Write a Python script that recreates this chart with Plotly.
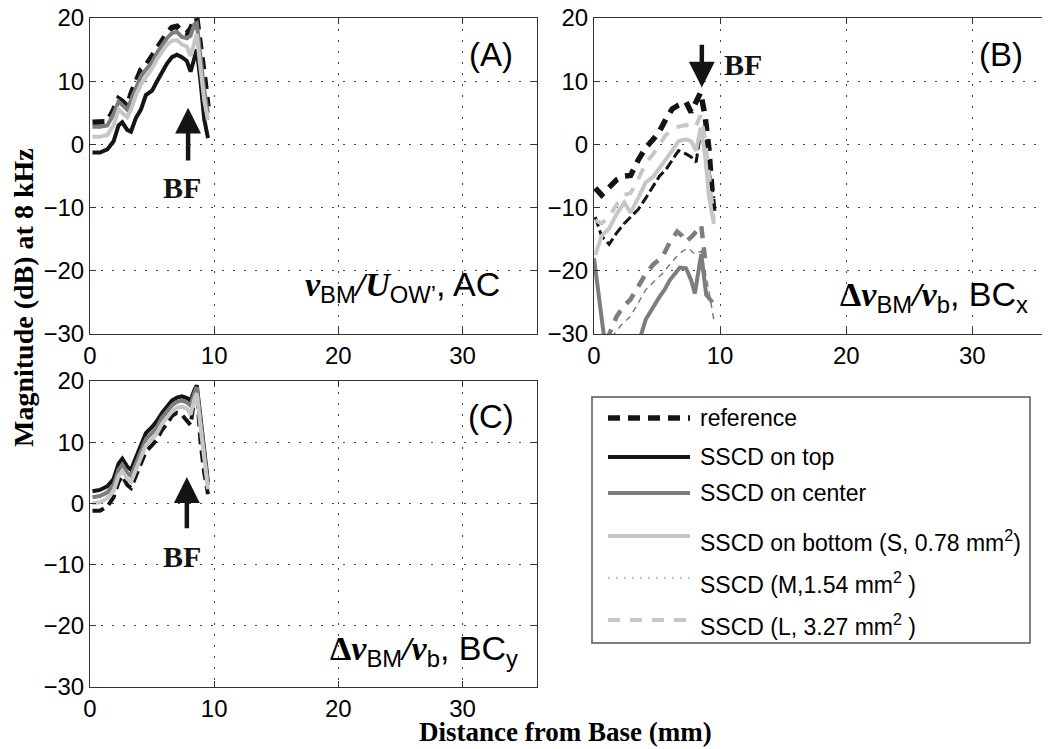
import plotly.graph_objects as go

W, H = 1050, 749
OFF = 8  # page body margin in the browser

# ---------------- data ----------------
x_ticks = [0, 10, 20, 30]
y_ticks = [-30, -20, -10, 0, 10, 20]

# Panel A : v_BM / U_OW, AC
A_x = [0.2, 0.8, 1.4, 1.9, 2.3, 2.6, 3.0, 3.3, 3.7, 4.1, 4.5, 5.0, 5.4, 5.8, 6.2,
       6.6, 7.0, 7.4, 7.8, 8.1, 8.4, 8.6, 8.9, 9.2, 9.5]
A_ref = [3.5, 3.5, 3.6, 5.5, 7.2, 6.8, 6.0, 8.0, 10.0, 11.8, 12.5, 14.0, 15.5, 16.5,
         17.6, 18.5, 18.7, 17.8, 17.6, 18.3, 19.8, 20.0, 16.0, 11.0, 6.0]
A_top = [-1.3, -1.3, -0.8, 0.5, 3.0, 3.5, 2.3, 2.0, 4.2, 5.5, 7.8, 8.5, 10.0, 11.5,
         12.8, 13.8, 14.2, 13.8, 13.2, 11.5, 13.5, 15.0, 10.0, 4.0, 1.0]
A_center = [2.8, 2.8, 3.0, 4.8, 6.8, 6.2, 5.5, 7.0, 9.0, 10.8, 11.8, 13.0, 14.5, 15.8,
            16.8, 17.6, 17.8, 17.0, 16.8, 17.2, 19.0, 19.2, 14.0, 8.5, 5.0]
A_bottom = [1.2, 1.2, 1.5, 3.0, 5.5, 5.0, 4.3, 5.5, 7.8, 9.5, 10.5, 12.0, 13.5, 14.8,
            15.8, 16.4, 16.5, 15.8, 15.5, 14.0, 16.5, 17.5, 12.0, 7.0, 3.8]

# Panel B : delta v_BM / v_b, BCx
B_x = [0.1, 0.6, 1.2, 1.8, 2.4, 2.9, 3.5, 4.1, 4.7, 5.2, 5.7, 6.2, 6.7, 7.3, 7.7,
       8.1, 8.45, 8.8, 9.1, 9.5]
B_ref = [-6.9, -8.0, -6.8, -5.6, -5.0, -4.9, -2.5, -0.5, 0.8, 2.1, 4.0, 5.6, 6.2, 6.7,
         5.1, 6.8, 8.2, 4.6, -0.5, -11.0]
B_top = [-11.5, -14.5, -15.8, -14.0, -12.5, -11.5, -10.3, -8.5, -6.7, -5.0, -4.0, -2.5,
         -1.0, -1.5, -2.0, -2.8, 2.0, 0.0, -4.0, -8.5]
B_bottom = [-17.5, -14.5, -13.3, -11.0, -9.2, -10.8, -8.5, -6.0, -5.1, -3.8, -2.5, -1.0,
            0.5, 0.8, 0.5, -1.0, 2.6, -1.5, -8.0, -12.6]
B_L = [-12.0, -12.5, -11.5, -9.5, -8.0, -7.7, -5.5, -3.0, -1.5, 0.0, 1.5, 2.3, 2.8, 3.1,
       2.5, 3.0, 4.6, 1.0, -5.0, -12.0]
B_center_x = [0.0, 0.4, 0.8, 1.2, 2.0, 3.0, 3.6, 4.1, 4.6, 5.2, 5.6, 6.0, 6.4, 6.8, 7.3,
              7.7, 8.0, 8.5, 8.9, 9.4]
B_center = [-18.0, -24.5, -30.5, -33.0, -35.0, -33.0, -31.0, -27.7, -26.0, -24.1, -23.0,
            -21.5, -20.5, -19.5, -19.6, -21.5, -23.6, -17.4, -23.8, -25.0]
B_M_x = [1.4, 2.2, 2.9, 3.5, 4.1, 4.7, 5.4, 6.0, 6.7, 7.1, 7.5, 8.0, 8.5, 9.0, 9.5]
B_M = [-30.5, -28.5, -27.2, -25.0, -23.0, -21.8, -20.5, -19.0, -17.4, -16.8, -16.4,
       -17.4, -16.9, -22.0, -27.7]
B_low_x = [1.0, 1.8, 2.4, 2.9, 3.5, 4.1, 4.7, 5.4, 6.0, 6.6, 7.0, 7.3, 7.8, 8.5, 8.8]
B_low = [-31.0, -27.2, -25.5, -24.5, -22.5, -20.5, -19.0, -17.9, -15.5, -13.8, -14.5,
         -15.4, -14.5, -12.8, -18.0]

# Panel C : delta v_BM / v_b, BCy
C_x = A_x
C_top = [2.0, 2.2, 2.8, 4.0, 6.5, 7.3, 6.0, 5.5, 7.5, 9.5, 11.5, 12.5, 13.5, 14.8, 15.8,
         16.8, 17.3, 17.5, 17.2, 16.8, 18.5, 19.3, 14.0, 8.5, 3.5]
C_center = [1.0, 1.2, 1.8, 3.0, 5.5, 6.3, 5.0, 4.5, 6.5, 8.5, 10.5, 11.5, 12.5, 14.0,
            15.0, 16.0, 16.6, 16.8, 16.5, 16.0, 18.0, 19.0, 13.5, 8.0, 3.0]
C_bottom = [0.0, 0.2, 0.8, 2.0, 4.5, 5.3, 4.0, 3.5, 5.5, 7.5, 9.5, 10.5, 11.5, 13.0,
            14.0, 15.0, 15.6, 15.8, 15.5, 14.5, 17.0, 18.0, 12.5, 7.0, 2.3]
C_ref = [-1.2, -1.2, -0.5, 1.0, 3.5, 4.5, 3.0, 2.5, 4.5, 6.5, 8.5, 9.5, 10.5, 12.0, 13.0,
         14.3, 14.8, 14.5, 13.5, 12.8, 17.0, 18.5, 10.0, 5.0, 1.5]

legend_labels = ["reference", "SSCD on top", "SSCD on center",
                 "SSCD on bottom (S, 0.78 mm<sup>2</sup>)",
                 "SSCD (M,1.54 mm<sup>2</sup> )", "SSCD (L, 3.27 mm<sup>2</sup> )"]

# ---------------- styles ----------------
BLACK = "#141414"
GRAY = "#7d7d7d"
LGRAY = "#c6c6c6"
st_ref = dict(color=BLACK, width=5.5, dash="12px,8px")
st_top = dict(color=BLACK, width=4)
st_center = dict(color=GRAY, width=4)
st_bottom = dict(color=LGRAY, width=4)
st_M = dict(color=LGRAY, width=2, dash="2px,6px")
st_L = dict(color=LGRAY, width=4, dash="12px,10px")
legend_styles = [st_ref, st_top, st_center, st_bottom, st_M, st_L]

fig = go.Figure()


def add(x, y, line, xa, ya):
    fig.add_trace(go.Scatter(x=x, y=y, mode="lines", line=line, xaxis=xa, yaxis=ya,
                             showlegend=False, hoverinfo="skip"))


# Panel A
add(A_x, A_ref, st_ref, "x", "y")
add(A_x, A_top, st_top, "x", "y")
add(A_x, A_center, st_center, "x", "y")
add(A_x, A_bottom, st_bottom, "x", "y")

# Panel B
add(B_center_x, B_center, dict(color=GRAY, width=4), "x2", "y2")
add(B_M_x, B_M, dict(color=GRAY, width=1.5, dash="6px,5px"), "x2", "y2")
add(B_low_x, B_low, dict(color=GRAY, width=4.5, dash="12px,9px"), "x2", "y2")
add(B_x, B_ref, st_ref, "x2", "y2")
add(B_x, B_top, dict(color=BLACK, width=3, dash="10px,4px"), "x2", "y2")
add(B_x, B_bottom, st_bottom, "x2", "y2")
add(B_x, B_L, st_L, "x2", "y2")

# Panel C
add(C_x, C_ref, dict(color=BLACK, width=4, dash="12px,6px"), "x3", "y3")
add(C_x, C_top, st_top, "x3", "y3")
add(C_x, C_center, st_center, "x3", "y3")
add(C_x, C_bottom, st_bottom, "x3", "y3")

TICKFONT = dict(family="Liberation Sans, Arial, sans-serif", size=24, color="black")
axis_common = dict(showline=True, linecolor="#333", linewidth=1, mirror="ticks",
                   ticks="inside", ticklen=6, tickcolor="#333", showgrid=True,
                   gridcolor="#444", gridwidth=1, griddash="2px,9px", zeroline=False,
                   tickfont=TICKFONT, automargin=False, ticklabeloverflow="allow")


def px_x(p):
    return (p - OFF) / W


def px_y(p):
    return 1 - (p - OFF) / H


xdomA = [px_x(90), px_x(537)]
xdomB = [px_x(594), px_x(1048)]
ydomTop = [px_y(334), px_y(18)]
ydomC = [px_y(687), px_y(381)]

fig.update_layout(
    width=W, height=H, margin=dict(l=0, r=0, t=0, b=0, pad=0, autoexpand=False),
    paper_bgcolor="white", plot_bgcolor="white",
    xaxis=dict(domain=xdomA, anchor="y", range=[0, 36], tickvals=x_ticks, **axis_common),
    yaxis=dict(domain=ydomTop, anchor="x", range=[-30, 20], tickvals=y_ticks, **axis_common),
    xaxis2=dict(domain=xdomB, anchor="y2", range=[0, 36], tickvals=x_ticks, **axis_common),
    yaxis2=dict(domain=ydomTop, anchor="x2", range=[-30, 20], tickvals=y_ticks, **axis_common),
    xaxis3=dict(domain=xdomA, anchor="y3", range=[0, 36], tickvals=x_ticks, **axis_common),
    yaxis3=dict(domain=ydomC, anchor="x3", range=[-30, 20], tickvals=y_ticks, **axis_common),
    showlegend=False,
)

SANS = "Liberation Sans, Arial, sans-serif"
SERIF = "Liberation Serif, Times New Roman, serif"
ann = []

# panel letters
for xr, yr, t in [("x", "y", "(A)"), ("x2", "y2", "(B)"), ("x3", "y3", "(C)")]:
    ann.append(dict(x=32.3, y=14.2, xref=xr, yref=yr, text=t, showarrow=False,
                    xanchor="center", yanchor="middle",
                    font=dict(family=SANS, size=33, color="black")))


def bi(s):
    return '<span style="font-family:Liberation Serif"><b><i>%s</i></b></span>' % s


lblA = bi("v") + "<sub>BM</sub>" + bi("/U") + "<sub>OW’</sub>, AC"
lblB = '<span style="font-family:Liberation Serif"><b>Δ</b></span>' + bi("v") + \
       "<sub>BM</sub>" + bi("/v") + "<sub>b</sub>, BC<sub>x</sub>"
lblC = '<span style="font-family:Liberation Serif"><b>Δ</b></span>' + bi("v") + \
       "<sub>BM</sub>" + bi("/v") + "<sub>b</sub>, BC<sub>y</sub>"
LBLFONT = dict(family=SANS, size=34, color="black")
ann.append(dict(x=33.2, y=-22.5, xref="x", yref="y", text=lblA, showarrow=False,
                xanchor="right", yanchor="middle", font=LBLFONT))
ann.append(dict(x=34.6, y=-24.0, xref="x2", yref="y2", text=lblB, showarrow=False,
                xanchor="right", yanchor="middle", font=LBLFONT))
ann.append(dict(x=34.6, y=-24.0, xref="x3", yref="y3", text=lblC, showarrow=False,
                xanchor="right", yanchor="middle", font=LBLFONT))

# BF arrows
arrow = dict(showarrow=True, arrowhead=2, arrowsize=1.15, arrowwidth=4.5,
             arrowcolor=BLACK, text="", standoff=0)
ann.append(dict(x=7.9, y=5.8, ax=7.9, ay=-2.8, xref="x", yref="y", axref="x", ayref="y", **arrow))
ann.append(dict(x=8.55, y=9.0, ax=8.55, ay=16.0, xref="x2", yref="y2", axref="x2", ayref="y2", **arrow))
ann.append(dict(x=7.8, y=4.3, ax=7.8, ay=-4.3, xref="x3", yref="y3", axref="x3", ayref="y3", **arrow))
BF = dict(family=SERIF, size=30, color=BLACK)
for xv, yv, xr, yr in [(7.4, -6.8, "x", "y"), (11.8, 12.6, "x2", "y2"), (7.4, -8.6, "x3", "y3")]:
    ann.append(dict(x=xv, y=yv, xref=xr, yref=yr, text="<b>BF</b>", showarrow=False,
                    xanchor="center", yanchor="middle", font=BF))

# axis titles
ann.append(dict(x=px_x(565), y=px_y(732), xref="paper", yref="paper",
                xanchor="center", yanchor="middle",
                text="<b>Distance from Base (mm)</b>", showarrow=False,
                font=dict(family=SERIF, size=27, color="black")))
ann.append(dict(x=px_x(23), y=px_y(298), xref="paper", yref="paper", textangle=-90,
                xanchor="center", yanchor="middle",
                text="<b>Magnitude (dB) at 8 kHz</b>", showarrow=False,
                font=dict(family=SERIF, size=28, color="black")))

# manual legend
shapes = [dict(type="rect", xref="paper", yref="paper", x0=px_x(592), x1=px_x(1030),
               y0=px_y(643), y1=px_y(397), line=dict(color="#555", width=1.5),
               fillcolor="white", layer="below")]
row_y = [418, 457, 493, 536, 578, 620]
row_shift = [0, 0, 0, -5, -5, -5]
for lab, st, ry, sh in zip(legend_labels, legend_styles, row_y, row_shift):
    shapes.append(dict(type="line", xref="paper", yref="paper", x0=px_x(608), x1=px_x(690),
                       y0=px_y(ry), y1=px_y(ry), line=st))
    ann.append(dict(x=px_x(698), y=px_y(ry), xref="paper", yref="paper", text=lab,
                    showarrow=False, xanchor="left", yanchor="middle", yshift=sh,
                    font=dict(family=SANS, size=23, color="black")))

fig.update_layout(annotations=ann, shapes=shapes)
fig.write_html("out.html")
